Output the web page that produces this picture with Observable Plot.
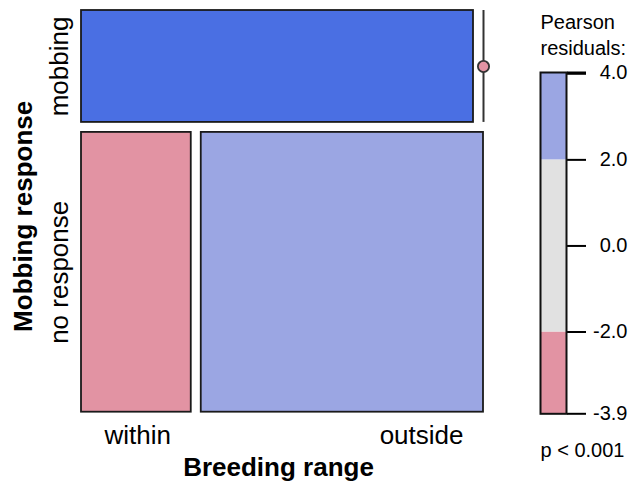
<!DOCTYPE html>
<html>
<head>
<meta charset="utf-8">
<script src="https://cdn.jsdelivr.net/npm/d3@7"></script>
<script src="https://cdn.jsdelivr.net/npm/@observablehq/plot@0.6"></script>
<style>
  body { margin: 0; background: #fff; }
  #chart { position: relative; width: 630px; height: 483px; }
  #chart svg { position: absolute; left: 0; top: 0; overflow: visible; }
  #legend [aria-label="y-axis tick"] { stroke-width: 2; }
</style>
</head>
<body>
<div id="chart"></div>
<script>
// ---- data ----
const rowVariable = "Mobbing response";
const colVariable = "Breeding range";
const rowLevels = ["mobbing", "no response"];
const colLevels = ["within", "outside"];
const counts = [
  [10, 0],   // mobbing: within, outside
  [7, 18]    // no response: within, outside
];
const residuals = [
  [4.03, -3.90],
  [-2.60, 2.60]
];
const shadeBreaks = [-4, -2, 2, 4];
const shadeColors = ["#D33F6A", "#E293A3", "#E1E1E1", "#9BA6E3", "#4A6FE3"];
const legendTitle = ["Pearson", "residuals:"];
const legendInnerTicks = [4, 2, 0, -2];
const pValueText = "p < 0.001";

// ---- layout constants ----
const gap = 0.0255;
const font = "'Liberation Sans', Arial, Helvetica, sans-serif";
const labelSize = 26;

// ---- mosaic tiles ----
const N = d3.sum(counts.flat());
const cells = [];
let yPos = 0;
rowLevels.forEach((r, i) => {
  const rowTotal = d3.sum(counts[i]);
  const h = rowTotal / N;
  let xPos = 0;
  colLevels.forEach((c, j) => {
    const w = counts[i][j] / rowTotal;
    cells.push({row: r, col: c, n: counts[i][j], res: residuals[i][j],
                x1: xPos, x2: xPos + w, y1: yPos, y2: yPos + h});
    xPos += w + gap;
  });
  yPos += h + gap;
});
const rowLabels = rowLevels.map(r => {
  const c = cells.find(d => d.row === r);
  return {label: r, y: (c.y1 + c.y2) / 2};
});
const lastRow = cells.filter(d => d.row === rowLevels[rowLevels.length - 1]);

const colorScale = {type: "threshold", domain: shadeBreaks, range: shadeColors};

const main = Plot.plot({
  width: 630, height: 483,
  marginLeft: 81, marginRight: 147, marginTop: 10, marginBottom: 71.3,
  x: {domain: [0, 1 + gap], axis: null},
  y: {domain: [0, 1 + gap], reverse: true, axis: null},
  color: colorScale,
  style: {fontFamily: font, background: "transparent", color: "#000"},
  marks: [
    Plot.rect(cells.filter(d => d.n > 0), {
      x1: "x1", x2: "x2", y1: "y1", y2: "y2", fill: "res",
      stroke: "#1a1a1a", strokeWidth: 1.8
    }),
    Plot.ruleX(cells.filter(d => d.n === 0), {
      x: "x1", y1: "y1", y2: "y2", stroke: "#333", strokeWidth: 2
    }),
    Plot.dot(cells.filter(d => d.n === 0), {
      x: "x1", y: d => (d.y1 + d.y2) / 2, r: 5.6, fill: "res",
      stroke: "#333", strokeWidth: 1.8
    }),
    Plot.text(rowLabels, {
      x: 0, y: "y", text: "label", rotate: -90, dx: -22,
      textAnchor: "middle", lineAnchor: "middle",
      fontSize: labelSize, fill: "#000"
    }),
    Plot.text([rowVariable], {
      frameAnchor: "left", rotate: -90, dx: -58, dy: 5,
      textAnchor: "middle", lineAnchor: "middle",
      fontSize: labelSize, fontWeight: "bold", fill: "#000"
    }),
    Plot.text([lastRow[0]], {
      x: "x1", text: "col", frameAnchor: "bottom", textAnchor: "start", lineAnchor: "middle",
      dx: 23, dy: 23, fontSize: labelSize, fill: "#000"
    }),
    Plot.text([lastRow[lastRow.length - 1]], {
      x: "x2", text: "col", frameAnchor: "bottom", textAnchor: "end", lineAnchor: "middle",
      dx: -20, dy: 23, fontSize: labelSize, fill: "#000"
    }),
    Plot.text([colVariable], {
      frameAnchor: "bottom", textAnchor: "middle", lineAnchor: "middle",
      dx: -4, dy: 55, fontSize: labelSize, fontWeight: "bold", fill: "#000"
    })
  ]
});

// ---- legend ----
const [rmin, rmax] = d3.extent(residuals.flat());
const edges = [rmin, ...shadeBreaks.filter(b => b > rmin && b < rmax), rmax];
const bins = d3.pairs(edges).map(([lo, hi]) => ({lo, hi, mid: (lo + hi) / 2}));
const legendTicks = [rmax, ...legendInnerTicks, rmin];
const fmt = d => d.toFixed(1);
const tickLabels = Array.from(d3.group(legendTicks, fmt), ([k, v]) => v[0]);

const legend = Plot.plot({
  width: 630, height: 483,
  marginLeft: 540, marginRight: 64, marginTop: 72, marginBottom: 69.7,
  x: {domain: [0, 1], axis: null},
  y: {domain: [rmin, rmax], axis: "right", ticks: legendTicks, tickFormat: () => "",
      tickSize: 19, label: null},
  color: colorScale,
  style: {fontFamily: font, fontSize: "20px", background: "transparent", color: "#000"},
  marks: [
    Plot.rect(bins, {x1: 0, x2: 1, y1: "lo", y2: "hi", fill: "mid"}),
    Plot.frame({stroke: "#111", strokeWidth: 2}),
    Plot.text(tickLabels, {
      y: d => d, text: fmt, frameAnchor: "right", textAnchor: "end", lineAnchor: "middle",
      dx: 61, fontSize: 20, fill: "#000"
    }),
    Plot.text([legendTitle[0]], {frameAnchor: "top-left", textAnchor: "start", lineAnchor: "middle", dy: -50, fontSize: 20, fill: "#000"}),
    Plot.text([legendTitle[1]], {frameAnchor: "top-left", textAnchor: "start", lineAnchor: "middle", dy: -24, fontSize: 20, fill: "#000"}),
    Plot.text([pValueText], {frameAnchor: "bottom-left", textAnchor: "start", lineAnchor: "middle", dy: 37, fontSize: 20, fill: "#000"})
  ]
});
legend.setAttribute("id", "legend");

const chart = document.getElementById("chart");
chart.appendChild(main);
chart.appendChild(legend);
</script>
</body>
</html>
